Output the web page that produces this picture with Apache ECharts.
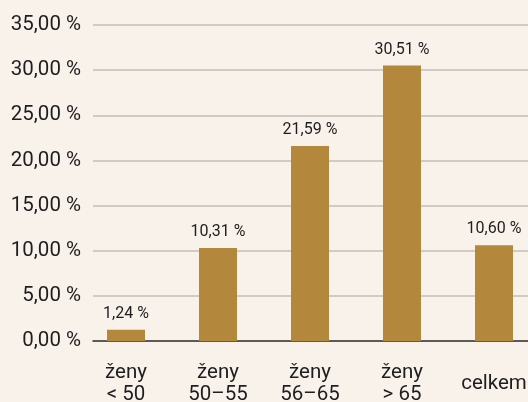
<!DOCTYPE html>
<html><head><meta charset="utf-8">
<script src="https://cdn.jsdelivr.net/npm/echarts@6/dist/echarts.min.js"></script>
<style>html,body{margin:0;padding:0;background:#f8f2eb}#c{width:528px;height:402px}</style>
</head><body><div id="c"></div>
<script>
const categories = ['ženy\n< 50', 'ženy\n50–55', 'ženy\n56–65', 'ženy\n> 65', 'celkem'];
const values = [1.24, 10.31, 21.59, 30.51, 10.60];
const yTicks = [0, 5, 10, 15, 20, 25, 30, 35];

const fmt = v => v.toFixed(2).replace('.', ',') + ' %';
const font = 'Roboto, sans-serif';
const chart = echarts.init(document.getElementById('c'));
chart.setOption({
  backgroundColor: '#f8f2eb',
  animation: false,
  grid: [
    {left: 93, right: 0, top: 25, bottom: 61, outerBoundsMode: 'none', containLabel: false},
    {left: 80, width: 460, top: 25, bottom: 61, outerBoundsMode: 'none', containLabel: false}
  ],
  xAxis: [
    {type: 'category', gridIndex: 0, data: categories,
     axisLine: {show: true, lineStyle: {color: '#3a3631', width: 1.5}},
     axisTick: {show: false}, axisLabel: {show: false}, splitLine: {show: false}},
    {type: 'category', gridIndex: 1, data: categories,
     axisLine: {show: false}, axisTick: {show: false},
     axisLabel: {color: '#1e1e1e', fontFamily: font, fontSize: 20.5, lineHeight: 22,
                 verticalAlign: 'middle', margin: 43, interval: 0}}
  ],
  yAxis: [
    {type: 'value', gridIndex: 0, min: yTicks[0], max: yTicks[yTicks.length - 1], interval: 5,
     axisLine: {show: false}, axisTick: {show: false},
     axisLabel: {color: '#1e1e1e', fontFamily: font, fontSize: 20.5, margin: 12, formatter: fmt},
     splitLine: {lineStyle: {color: '#c2beb8', width: 1.5}}},
    {type: 'value', gridIndex: 1, min: yTicks[0], max: yTicks[yTicks.length - 1], interval: 5,
     show: false, splitLine: {show: false}}
  ],
  series: [{
    type: 'bar', xAxisIndex: 1, yAxisIndex: 1, data: values, barWidth: 38,
    itemStyle: {color: '#b3883d'},
    label: {show: true, position: 'top', distance: 8, color: '#1e1e1e',
            fontFamily: font, fontSize: 16, formatter: p => fmt(p.value)}
  }]
});
</script></body></html>
